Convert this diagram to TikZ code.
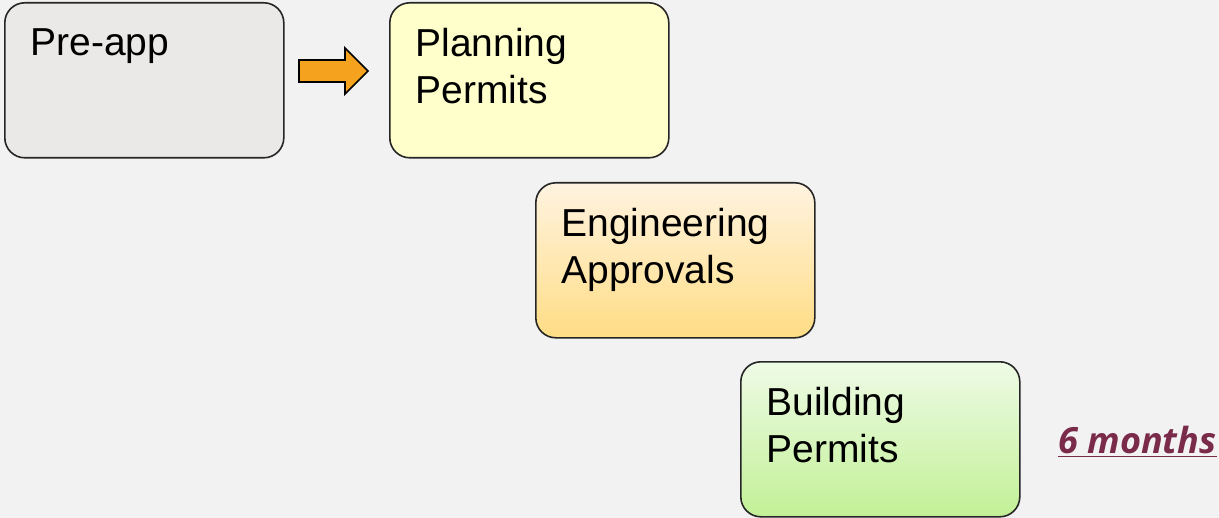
\documentclass[tikz,border=0pt]{standalone}
\usepackage{fontspec}
\setmainfont{Liberation Sans}
\newfontfamily\monthsfont{Open Sans}
\usepackage{tikz}
\usetikzlibrary{
calc,
positioning,
}
\definecolor{pagebg}{HTML}{F2F2F2}
\definecolor{pregrey}{HTML}{EBE9E8}
\definecolor{planyellow}{HTML}{FFFFCC}
\definecolor{engtop}{HTML}{FFF3E0}
\definecolor{engbottom}{HTML}{FFDD85}
\definecolor{bldtop}{HTML}{EEFBE6}
\definecolor{bldbottom}{HTML}{C2F096}
\definecolor{arroworange}{HTML}{F5A21F}
\definecolor{monthsred}{HTML}{7A2B4A}
\tikzset{
stagebox/.style={draw=black!85, line width=0.8pt, rounded corners=10pt, minimum width=139.5pt, minimum height=77.5pt, anchor=north west, inner sep=0pt},
stagetext/.style={anchor=north west, align=left, inner sep=0pt, font=\fontsize{19.5}{23.5}\selectfont},
}

\begin{document}
\begin{tikzpicture}[x=0.5pt, y=-0.5pt]
				\fill[pagebg] (0,0) rectangle (1219,518);
				\useasboundingbox (0,0) rectangle (1219,518);
				% the four stages
				\node[stagebox, fill=pregrey] (pre) at (4,2) {};
				\node[stagebox, fill=planyellow] (plan) at (389,2) {};
				\node[stagebox, top color=engtop, bottom color=engbottom] (eng) at (535,182) {};
				\node[stagebox, top color=bldtop, bottom color=bldbottom] (bld) at (740,361) {};
				\node[stagetext] (pretext) at ($(pre.north west)+(26,26)$) {Pre-app};
				\node[stagetext] (plantext) at ($(plan.north west)+(26,26)$) {Planning\\Permits};
				\node[stagetext] (engtext) at ($(eng.north west)+(26,26)$) {Engineering\\Approvals};
				\node[stagetext] (bldtext) at ($(bld.north west)+(26,26)$) {Building\\Permits};
				% block arrow
				\coordinate (A) at (299,60);
				\coordinate (B) at (345,60);
				\coordinate (C) at (345,48);
				\coordinate (D) at (368,71);
				\coordinate (E) at (345,94);
				\coordinate (F) at (345,82);
				\coordinate (G) at (299,82);
				\draw[fill=arroworange, line width=0.8pt, line join=miter] (A) -- (B) -- (C) -- (D) -- (E) -- (F) -- (G) -- cycle;
				\node[anchor=base west, inner sep=0pt, text=monthsred, font=\monthsfont\fontsize{18}{22}\selectfont\bfseries\itshape] (months) at (1058,453) {\underline{6 months}};
			\end{tikzpicture}
\end{document}
